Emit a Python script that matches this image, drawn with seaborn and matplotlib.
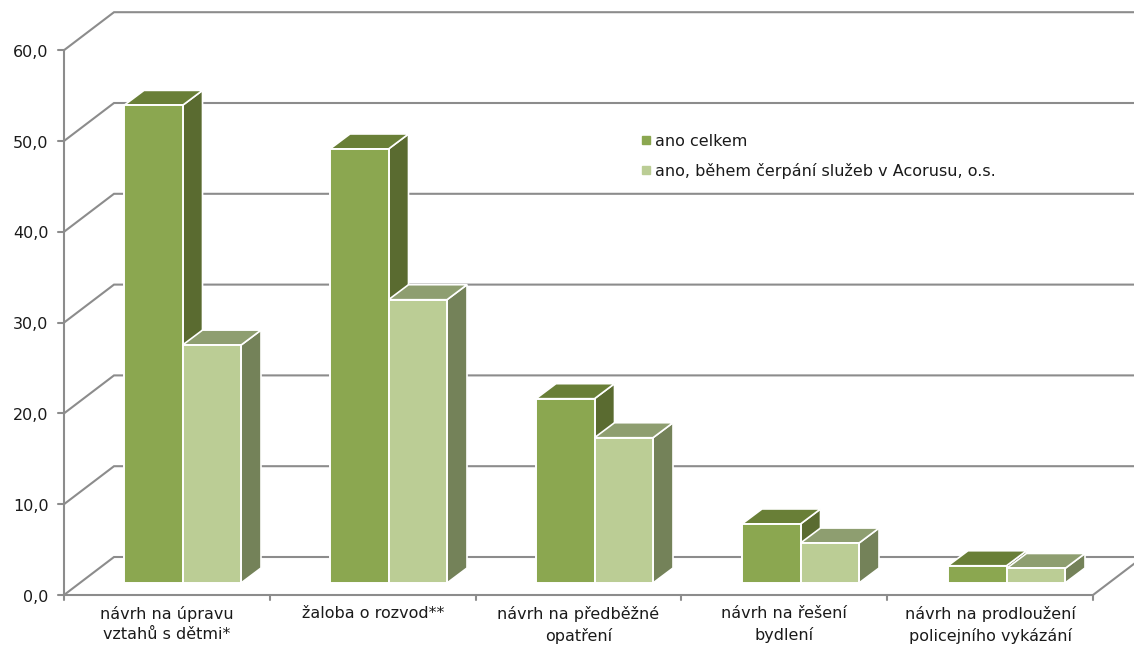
#!/usr/bin/env python3
"""Excel style 3D clustered columns redrawn with seaborn."""

import matplotlib
matplotlib.use('Agg')
import matplotlib.pyplot as plt
from matplotlib.lines import Line2D
from matplotlib.patches import Polygon
import pandas as pd
import seaborn as sns

categories = [
    'návrh na úpravu\nvztahů s dětmi*',
    'žaloba o rozvod**',
    'návrh na předběžné\nopatření',
    'návrh na řešení\nbydlení',
    'návrh na prodloužení\npolicejního vykázání',
]
series_names = ['ano celkem', 'ano, během čerpání služeb v Acorusu, o.s.']
total_values = [52.6, 47.8, 20.3, 6.5, 1.9]
acorus_values = [26.2, 31.2, 16.0, 4.4, 1.6]
y_ticks = [0, 10, 20, 30, 40, 50, 60]
y_tick_labels = ['0,0', '10,0', '20,0', '30,0', '40,0', '50,0', '60,0']

FRONT = ['#8BA750', '#BBCD95']
TOP = ['#697F37', '#8E9E70']
SIDE = ['#5A6B30', '#748259']
GRID = '#8C8C8C'
TEXT = '#1a1a1a'
FONT = 11.5

W, H = 1134, 646
X0, X_STEP = 182.5, 206.0    # pixel of first group centre, group spacing
Y0, Y_SCALE = 583.0, 9.08    # pixel of bar base, pixels per unit
BAR_DX, BAR_DY = 20, 15      # bar depth in pixels
WALL_DX, WALL_DY = 50, 38    # plot depth in pixels
LEFT, RIGHT, FLOOR = 64, 1093, 595


def dx(px):
    return px / X_STEP


def dy(px):
    return px / Y_SCALE


def xd(px):
    return (px - X0) / X_STEP


def yd(px):
    return (Y0 - px) / Y_SCALE


df = pd.DataFrame({
    'kategorie': categories * 2,
    'serie': [series_names[0]] * 5 + [series_names[1]] * 5,
    'hodnota': total_values + acorus_values,
})

sns.set_theme(style='white')
plt.rcParams['font.family'] = ['DejaVu Sans']

fig = plt.figure(figsize=(W / 100, H / 100), dpi=100)
ax = fig.add_axes([0, 0, 1, 1])

sns.barplot(data=df, x='kategorie', y='hodnota', hue='serie', order=categories,
            hue_order=series_names, palette=FRONT, width=0.568, gap=0, dodge=True,
            saturation=1, edgecolor='white', linewidth=1.4, legend=False,
            zorder=3, ax=ax)

ax.set_xlim(xd(0), xd(W))
ax.set_ylim(yd(H), yd(0))
ax.axis('off')

# walls: gridlines run from the front edge to the back wall and across
floor_off = yd(FLOOR)
for v, label in zip(y_ticks, y_tick_labels):
    y_front = v + floor_off
    y_back = y_front + dy(WALL_DY)
    ax.plot([xd(LEFT), xd(LEFT + WALL_DX), xd(W + 4)], [y_front, y_back, y_back],
            color=GRID, lw=1.5, zorder=1, solid_joinstyle='miter')
    ax.plot([xd(LEFT - 6), xd(LEFT)], [y_front, y_front], color=GRID, lw=1.5, zorder=1)
    ax.text(xd(48.5), y_front - dy(2), label, ha='right', va='center', fontsize=FONT, color=TEXT)

ax.plot([xd(LEFT), xd(LEFT)], [floor_off, 60 + floor_off], color=GRID, lw=1.5, zorder=1)
ax.plot([xd(LEFT), xd(RIGHT), xd(RIGHT + WALL_DX)], [floor_off, floor_off, floor_off + dy(WALL_DY)],
        color=GRID, lw=1.5, zorder=1)

cat_step = (RIGHT - LEFT) / len(categories)
for i in range(len(categories) + 1):
    x_tick = xd(LEFT + cat_step * i)
    ax.plot([x_tick, x_tick], [floor_off, floor_off - dy(5)], color=GRID, lw=1.5, zorder=1)
for i, cat in enumerate(categories):
    ax.text(xd(LEFT + cat_step * (i + 0.5)), yd(606.5), cat, ha='center', va='top',
            fontsize=FONT, color=TEXT, linespacing=1.4)

# top and side faces, taken from the bars seaborn drew
for s, container in enumerate(ax.containers):
    z = 2 + s * 0.5
    for bar in container:
        x1, x2 = bar.get_x(), bar.get_x() + bar.get_width()
        h = bar.get_height()
        ox, oy = dx(BAR_DX), dy(BAR_DY)
        top = [(x1, h), (x2, h), (x2 + ox, h + oy), (x1 + ox, h + oy)]
        side = [(x2, 0), (x2 + ox, oy), (x2 + ox, h + oy), (x2, h)]
        ax.add_patch(Polygon(side, fc=SIDE[s], ec='white', lw=1.2, zorder=z))
        ax.add_patch(Polygon(top, fc=TOP[s], ec='white', lw=1.2, zorder=z + 0.1))

handles = [Line2D([], [], ls='', marker='s', ms=5.5, color=c) for c in FRONT]
ax.legend(handles, series_names, loc='upper left', bbox_to_anchor=(642 / W, 1 - 134 / H),
          frameon=False, fontsize=FONT, handlelength=0.5, handletextpad=0.3,
          labelspacing=0.87, borderpad=0, borderaxespad=0, labelcolor=TEXT)

fig.savefig('out.png', dpi=100)
